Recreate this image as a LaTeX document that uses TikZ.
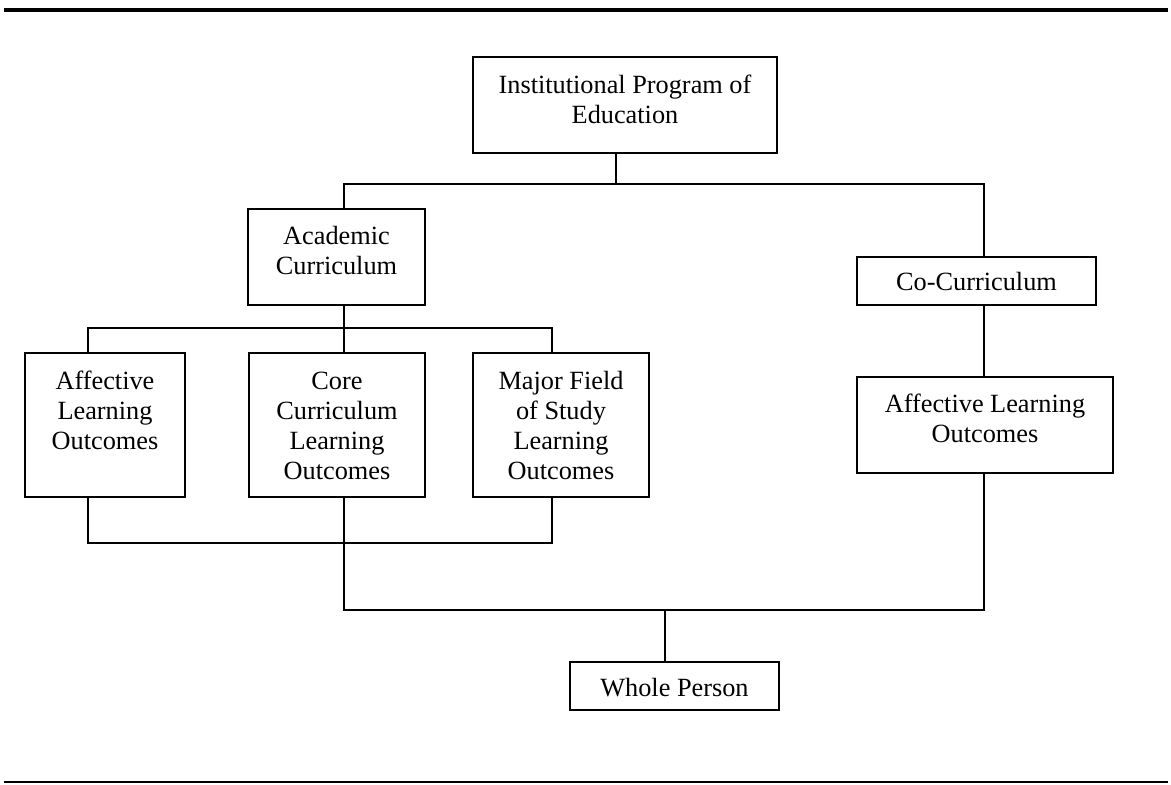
\documentclass[tikz,border=0pt]{standalone}
\usepackage{fontspec}
\setmainfont{Liberation Serif}
\begin{document}
\begin{tikzpicture}[x=1pt,y=-1pt,
  box/.style={draw, line width=2pt, inner sep=0pt, anchor=north west,
              font=\fontsize{26.3}{30}\selectfont},
  conn/.style={line width=2pt},
  rulethick/.style={line width=4.5pt},
  rulethin/.style={line width=1.6pt}]
\useasboundingbox (0,0) rectangle (1171,785);
% rules
\coordinate (tl) at (4,10); \coordinate (tr) at (1168,10);
\coordinate (bl) at (4,782); \coordinate (br) at (1168,782);
\draw[rulethick] (tl) -- (tr);
\draw[rulethin] (bl) -- (br);
% boxes
\node[box] (inst) at (472,56) {\parbox[t][96pt][t]{304pt}{\centering\rule{0pt}{36pt}Institutional Program of\\Education}};
\node[box] (acad) at (247,208) {\parbox[t][96pt][t]{177pt}{\centering\rule{0pt}{35pt}Academic\\Curriculum}};
\node[box] (cocurr) at (856,256) {\parbox[t][48pt][t]{239pt}{\centering\rule{0pt}{33pt}Co-Curriculum}};
\node[box] (aff1) at (24,352) {\parbox[t][144pt][t]{160pt}{\centering\rule{0pt}{36pt}Affective\\Learning\\Outcomes}};
\node[box] (core) at (248,352) {\parbox[t][144pt][t]{176pt}{\centering\rule{0pt}{36pt}Core\\Curriculum\\Learning\\Outcomes}};
\node[box] (major) at (472,352) {\parbox[t][144pt][t]{176pt}{\centering\rule{0pt}{36pt}Major Field\\of Study\\Learning\\Outcomes}};
\node[box] (aff2) at (856,376) {\parbox[t][96pt][t]{256pt}{\centering\rule{0pt}{35pt}Affective Learning\\Outcomes}};
\node[box] (whole) at (569,661) {\parbox[t][48pt][t]{209pt}{\centering\rule{0pt}{34pt}Whole Person}};
% junction coordinates
\coordinate (j0) at (616,184);
\coordinate (hL) at (344,184); \coordinate (hR) at (984,184);
\coordinate (a1) at (88,328); \coordinate (a3) at (552,328);
\coordinate (b1) at (88,543); \coordinate (b3) at (552,543);
\coordinate (c1) at (344,610); \coordinate (c2) at (984,610); \coordinate (cw) at (665,610);
% connectors
\draw[conn] (inst.south -| j0) -- (j0);
\draw[conn] (acad.north -| hL) -- (hL) -- (hR) -- (cocurr.north -| hR);
\draw[conn] (acad.south -| hL) -- (hL |- a1);
\draw[conn] (aff1.north -| a1) -- (a1) -- (a3) -- (major.north -| a3);
\draw[conn] (core.north -| hL) -- (hL |- a1);
\draw[conn] (cocurr.south -| hR) -- (aff2.north -| hR);
\draw[conn] (aff1.south -| b1) -- (b1) -- (b3) -- (major.south -| b3);
\draw[conn] (core.south -| c1) -- (c1) -- (c2) -- (aff2.south -| c2);
\draw[conn] (cw) -- (whole.north -| cw);
\end{tikzpicture}
\end{document}
